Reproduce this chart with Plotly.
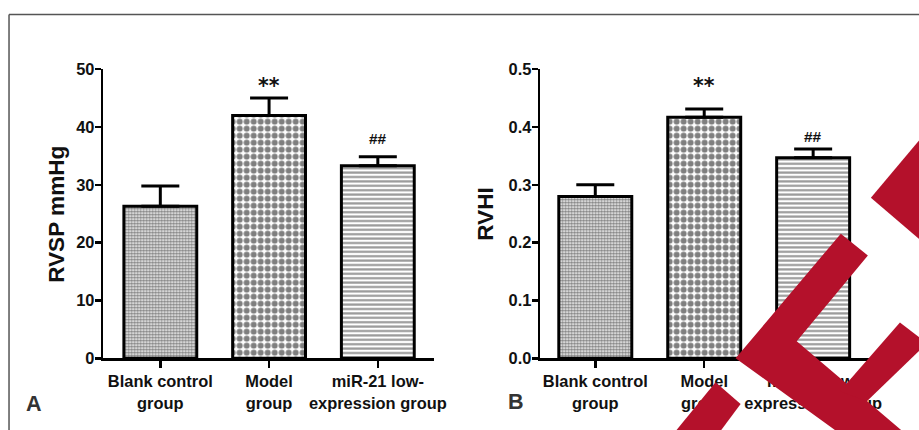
import plotly.graph_objects as go

# target picture is 919x430; the capture maps page pixels with a small scale/offset,
# so the page is laid out in a compensated coordinate space.
SX, SY, OY = 0.985, 0.962, 8.6
W, H = 933, 438
FS = 1 / 0.974

groups = ["Blank control<br>group", "Model<br>group", "miR-21 low-<br>expression group"]
xpos = [0, 1, 2]

rvsp_mean = [26.3, 42.0, 33.3]
rvsp_err = [3.5, 3.0, 1.55]
rvsp_ticks = [0, 10, 20, 30, 40, 50]
rvsp_sig = ["", "**", "##"]
rvsp_sig_y = [None, 47.1, 38.1]

rvhi_mean = [0.280, 0.417, 0.347]
rvhi_err = [0.020, 0.014, 0.015]
rvhi_ticks = [0.0, 0.1, 0.2, 0.3, 0.4, 0.5]
rvhi_tick_text = ["0.0", "0.1", "0.2", "0.3", "0.4", "0.5"]
rvhi_sig = ["", "**", "##"]
rvhi_sig_y = [None, 0.471, 0.383]

FONT = "Liberation Sans"

def px(x):
    return (x / SX) / W

def py(y):
    return 1 - ((y - OY) / SY) / H

def f(s):
    return round(s * FS, 2)

patterns = [
    dict(shape=".", size=3, solidity=0.62, fgcolor="#000000", bgcolor="#ffffff"),
    dict(shape=".", size=7, solidity=0.58, fgcolor="#000000", bgcolor="#ffffff"),
    dict(shape="-", size=4.4, solidity=0.5, fgcolor="#333333", bgcolor="#ffffff"),
]

fig = go.Figure()

for i in range(3):
    fig.add_trace(go.Bar(
        x=[xpos[i]], y=[rvsp_mean[i]], width=0.67,
        marker=dict(color="white", line=dict(color="black", width=3), pattern=patterns[i]),
        error_y=dict(type="data", array=[rvsp_err[i]], arrayminus=[0], symmetric=False,
                     color="black", thickness=3, width=19),
        xaxis="x", yaxis="y", showlegend=False, hoverinfo="skip"))
    fig.add_trace(go.Bar(
        x=[xpos[i]], y=[rvhi_mean[i]], width=0.67,
        marker=dict(color="white", line=dict(color="black", width=3), pattern=patterns[i]),
        error_y=dict(type="data", array=[rvhi_err[i]], arrayminus=[0], symmetric=False,
                     color="black", thickness=3, width=19),
        xaxis="x2", yaxis="y2", showlegend=False, hoverinfo="skip"))

ydom = [py(359), py(69)]
tickfont = dict(family=FONT, size=f(16), color="#111111", weight="bold")
catfont = dict(family=FONT, size=f(16), color="#111111", weight="bold")

common_x = dict(tickmode="array", tickvals=xpos, ticktext=groups, showline=True,
                linecolor="black", linewidth=2.5, ticks="outside", ticklen=7, tickwidth=2.5,
                tickcolor="black", showgrid=False, zeroline=False, tickfont=catfont,
                fixedrange=True)
common_y = dict(showline=True, linecolor="black", linewidth=2.5, ticks="outside", ticklen=6,
                tickwidth=2.5, tickcolor="black", showgrid=False, zeroline=False,
                tickfont=tickfont, domain=ydom, fixedrange=True, ticklabelstandoff=-3)

fig.update_layout(
    width=W, height=H,
    margin=dict(l=0, r=0, t=0, b=0),
    paper_bgcolor="white", plot_bgcolor="white",
    bargap=0,
    xaxis=dict(domain=[px(103), px(433)], range=[-0.525, 2.516], anchor="y", **common_x),
    yaxis=dict(range=[0, 50], tickvals=rvsp_ticks, anchor="x", **common_y),
    xaxis2=dict(domain=[px(539), px(869)], range=[-0.506, 2.53], anchor="y2", **common_x),
    yaxis2=dict(range=[0, 0.5], tickvals=rvhi_ticks, ticktext=rvhi_tick_text, anchor="x2", **common_y),
)

ann = []
def sig_font(star):
    if star:
        return dict(family="DejaVu Sans", size=f(20), color="#111111", weight="bold")
    return dict(family=FONT, size=f(15), color="#111111", weight="bold")

for i in range(3):
    if rvsp_sig[i]:
        ann.append(dict(x=xpos[i], y=rvsp_sig_y[i], xref="x", yref="y", text=rvsp_sig[i],
                        showarrow=False, xanchor="center", yanchor="middle",
                        font=sig_font(rvsp_sig[i] == "**")))
    if rvhi_sig[i]:
        ann.append(dict(x=xpos[i], y=rvhi_sig_y[i], xref="x2", yref="y2", text=rvhi_sig[i],
                        showarrow=False, xanchor="center", yanchor="middle",
                        font=sig_font(rvhi_sig[i] == "**")))

def label(x, y, text, size, color, angle=0):
    return dict(x=px(x), y=py(y), xref="paper", yref="paper", text=text, textangle=angle,
                showarrow=False, xanchor="center", yanchor="middle",
                font=dict(family=FONT, size=f(size), color=color, weight="bold"))

ann.append(label(57, 215, "RVSP mmHg", 22, "#111111", -90))
ann.append(label(485, 214, "RVHI", 22, "#111111", -90))
ann.append(label(34, 404, "A", 21, "#333333"))
ann.append(label(515, 402, "B", 21, "#333333"))
fig.update_layout(annotations=ann)

def poly(points):
    return "M " + " L ".join(f"{px(x):.5f},{py(y):.5f}" for x, y in points) + " Z"

RED = "#B4112B"
red_polys = [
    [(925, 131), (869, 198), (925, 246)],
    [(839, 234), (866, 256), (795, 342), (905, 436), (840, 436), (734, 359)],
    [(898, 323), (925, 344), (865, 402), (838, 392)],
    [(714, 383), (739, 405), (716, 436), (671, 436)],
]
shapes = [dict(type="line", xref="paper", yref="paper", x0=px(9), y0=py(14), x1=px(930), y1=py(14),
               line=dict(color="#555555", width=1.5)),
          dict(type="line", xref="paper", yref="paper", x0=px(9), y0=py(14), x1=px(9), y1=py(440),
               line=dict(color="#555555", width=1.5))]
for p in red_polys:
    shapes.append(dict(type="path", xref="paper", yref="paper", path=poly(p),
                       fillcolor=RED, line=dict(width=0), layer="above"))
fig.update_layout(shapes=shapes)

post = (
    "document.documentElement.style.margin='0';"
    "document.documentElement.style.overflow='hidden';"
    "document.body.style.margin='0';"
    "document.body.style.overflow='hidden';"
    "var gd=document.querySelector('.plotly-graph-div');"
    "if(gd){gd.style.position='fixed';gd.style.left='0px';gd.style.top='0px';}"
)
fig.write_html("out.html", config={"displayModeBar": False, "staticPlot": True}, post_script=post)
